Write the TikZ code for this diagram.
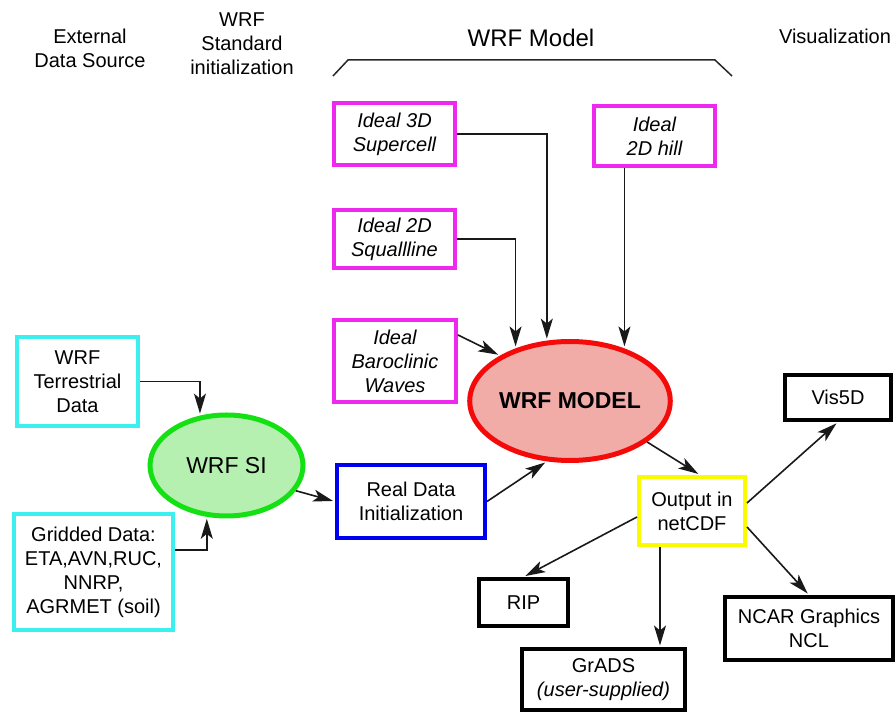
\documentclass[tikz,border=0pt]{standalone}
\usepackage{fontspec}
\setmainfont{Liberation Sans}
\usetikzlibrary{shapes.geometric,arrows.meta}
\definecolor{idealmag}{RGB}{238,40,238}
\definecolor{srccyan}{RGB}{60,240,240}
\definecolor{realblue}{RGB}{0,0,240}
\definecolor{outyellow}{RGB}{250,250,0}
\definecolor{modelred}{RGB}{245,10,10}
\definecolor{modelfill}{RGB}{242,172,168}
\definecolor{sigreen}{RGB}{20,225,20}
\definecolor{sifill}{RGB}{182,240,176}
\begin{document}
\begin{tikzpicture}[x=0.5pt,y=-0.5pt,
  box/.style={draw,line width=2pt,inner sep=0pt,align=center,font=\fontsize{10}{12}\selectfont},
  ideal/.style={box,draw=idealmag,font=\fontsize{10}{12}\selectfont\itshape},
  source/.style={box,draw=srccyan},
  viz/.style={box,draw=black},
  blob/.style={ellipse,line width=2.5pt,inner sep=0pt,font=\fontsize{11.5}{13}\selectfont},
  head/.style={align=center,inner sep=0pt,font=\fontsize{10}{12}\selectfont},
  arr/.style={-{Stealth[length=10pt,width=6pt,inset=2.5pt]},line width=0.8pt,draw=black!90,shorten >=1pt},
  brace/.style={line width=0.75pt,draw=black!85}]
  \useasboundingbox (0,0) rectangle (896,716);

  % column titles
  \node[head] (extsrc) at (90,48.5) {External\\Data Source};
  \node[head] (stdinit) at (242,44) {WRF\\Standard\\initialization};
  \node[head,font=\fontsize{12}{14}\selectfont] (wrfmod) at (531,38) {WRF Model};
  \node[head] (visual) at (835,36) {Visualization};
  \draw[brace] (333,76) -- (348,60) -- (715,60) -- (732,76);

  % ideal cases
  \node[ideal,minimum width=60.5pt,minimum height=31pt] (super) at (394.5,134) {Ideal 3D\\Supercell};
  \node[ideal,minimum width=60.5pt,minimum height=30pt] (hill) at (654.5,136) {Ideal\\2D hill};
  \node[ideal,minimum width=60.5pt,minimum height=29pt] (squall) at (394.5,239) {Ideal 2D\\Squallline};
  \node[ideal,minimum width=61pt,minimum height=41pt] (baro) at (395,361) {Ideal\\Baroclinic\\Waves};

  \node[blob,draw=modelred,fill=modelfill,minimum width=100pt,minimum height=59.5pt,font=\fontsize{11.5}{13}\selectfont\bfseries] (model) at (570,401) {WRF MODEL};

  % external data and SI
  \node[source,minimum width=60.5pt,minimum height=44.5pt] (terr) at (77.5,381.5) {WRF\\Terrestrial\\Data};
  \node[source,minimum width=79.5pt,minimum height=58pt] (grid) at (93.5,572) {Gridded Data:\\ETA,AVN,RUC,\\NNRP,\\AGRMET (soil)};
  \node[blob,draw=sigreen,fill=sifill,minimum width=76.5pt,minimum height=50.5pt] (si) at (226.5,465.5) {WRF SI};
  \node[box,draw=realblue,minimum width=74pt,minimum height=36.5pt] (real) at (411,501.5) {Real Data\\Initialization};

  % output and visualization
  \node[box,draw=outyellow,minimum width=53pt,minimum height=34pt] (out) at (692,511) {Output in\\netCDF};
  \node[viz,minimum width=53pt,minimum height=22.5pt] (vis) at (838,397.5) {Vis5D};
  \node[viz,minimum width=44.5pt,minimum height=23.5pt] (rip) at (523.5,602.5) {RIP};
  \node[viz,minimum width=81.5pt,minimum height=30.5pt] (grads) at (603.5,680) {GrADS\\\textit{(user-supplied)}};
  \node[viz,minimum width=84pt,minimum height=31.5pt] (ncar) at (809,628.5) {NCAR Graphics\\NCL};

  \draw[arr] (super.east) -| (model.111);
  \draw[arr] (squall.east) -| (model.136);
  \draw[arr] (model.44 |- hill.south) -- (model.44);
  \draw[arr] ([yshift=-8.5pt]baro.north east) -- (model.147);
  \draw[arr] (real.east) -- (model.249);
  \draw[arr] (si.-20) -- (real.west);
  \draw[arr] (terr.east) -| (si.118);
  \draw[arr] ([yshift=11pt]grid.east) -| (si.249);
  \draw[arr] (model.-28) -- ([xshift=4pt]out.north);
  \draw[arr] ([yshift=4pt]out.east) -- (vis.south);
  \draw[arr] ([yshift=-3pt]out.west) -- (rip.north);
  \draw[arr] ([xshift=-16pt]out.south) -- ([xshift=-16pt]out.south |- grads.north);
  \draw[arr] ([yshift=-8pt]out.east) -- (ncar.north);
\end{tikzpicture}
\end{document}
